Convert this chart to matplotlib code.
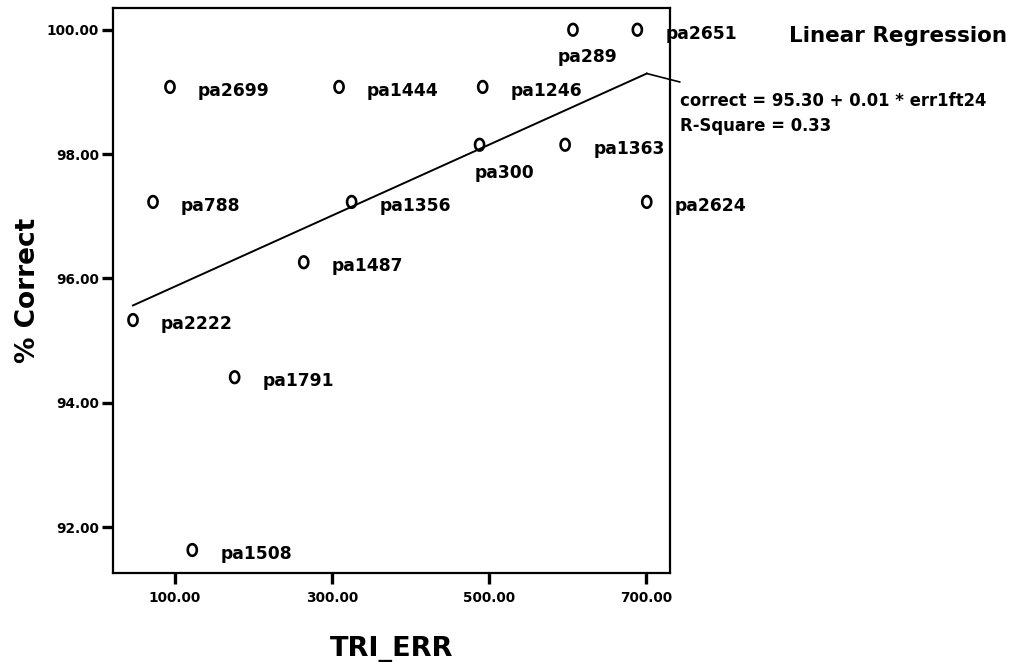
import numpy as np
import matplotlib
matplotlib.use("Agg")
import matplotlib.pyplot as plt
from matplotlib.path import Path

plt.rcParams['font.family'] = ['DejaVu Sans']
plt.rcParams['font.weight'] = 'bold'

# Participants: error count vs. percent correct
labels = ["pa2699", "pa1444", "pa1246", "pa289", "pa2651", "pa300", "pa1363",
          "pa788", "pa1356", "pa2624", "pa1487", "pa2222", "pa1791", "pa1508"]
tri_err = [93.6, 309, 492, 607, 689, 488, 597,
           72, 325, 701, 264, 46.5, 176, 122]
pct_correct = [99.08, 99.08, 99.08, 100.0, 100.0, 98.15, 98.15,
               97.23, 97.23, 97.23, 96.26, 95.33, 94.41, 91.63]

# Fitted regression
intercept = 95.30
slope = 0.0057
r_square = 0.33

x_ticks = [100, 300, 500, 700]
y_ticks = [92, 94, 96, 98, 100]

# label offsets in pixels (dx, dy); default places the label right of the point
offsets = {"pa289": (-15, -32), "pa300": (-5, -33)}
default_offset = (28, -9)

fig = plt.figure(figsize=(10.15, 6.64), dpi=100)
ax = fig.add_axes([113 / 1015, 1 - 573 / 664, (670 - 113) / 1015, (573 - 8) / 664])

# slightly tall open ellipse marker
t = np.linspace(0, 2 * np.pi, 60)
ell = Path(np.column_stack([0.78 * np.cos(t), np.sin(t)]), closed=True)

ax.scatter(tri_err, pct_correct, marker=ell, s=70, facecolors='none',
           edgecolors='black', linewidths=1.9, zorder=3, clip_on=False)

px = 72 / 100.0
for lab, x, y in zip(labels, tri_err, pct_correct):
    dx, dy = offsets.get(lab, default_offset)
    ax.annotate(lab, (x, y), xytext=(dx * px, dy * px), textcoords='offset points',
                ha='left', va='baseline', fontsize=12.3, fontweight='bold',
                annotation_clip=False)

# regression line across the data range
xs = np.array([min(tri_err), max(tri_err)])
ys = intercept + slope * xs
ax.plot(xs, ys, color='black', lw=1.4, zorder=2)

ax.set_xlim(21, 730.6)
ax.set_ylim(91.26, 100.35)

# leader from the line to the equation
ax.plot([xs[1], 743], [ys[1], 99.16], color='black', lw=1.2, clip_on=False)

ax.set_xticks(x_ticks)
ax.set_xticklabels([f"{v:.2f}" for v in x_ticks])
ax.set_yticks(y_ticks)
ax.set_yticklabels([f"{v:.2f}" for v in y_ticks])
ax.tick_params(axis='both', direction='out', length=8, width=2.4, labelsize=9.8)
ax.tick_params(axis='y', pad=2)
ax.tick_params(axis='x', pad=5)
for lbl in ax.get_xticklabels() + ax.get_yticklabels():
    lbl.set_fontweight('bold')
for sp in ax.spines.values():
    sp.set_linewidth(1.6)

ax.set_xlabel("TRI_ERR", fontsize=19.5, fontweight='bold', labelpad=22)
ax.set_ylabel("% Correct", fontsize=19, fontweight='bold', labelpad=4)

fig.text(789 / 1015, 1 - 42 / 664, "Linear Regression", fontsize=15.5,
         fontweight='bold', ha='left', va='baseline')
fig.text(680 / 1015, 1 - 106 / 664,
         f"correct = {intercept:.2f} + {slope:.2f} * err1ft24",
         fontsize=11.9, fontweight='bold', ha='left', va='baseline')
fig.text(680 / 1015, 1 - 131 / 664, f"R-Square = {r_square:.2f}",
         fontsize=11.9, fontweight='bold', ha='left', va='baseline')

fig.savefig("out.png", dpi=100, facecolor='white')
